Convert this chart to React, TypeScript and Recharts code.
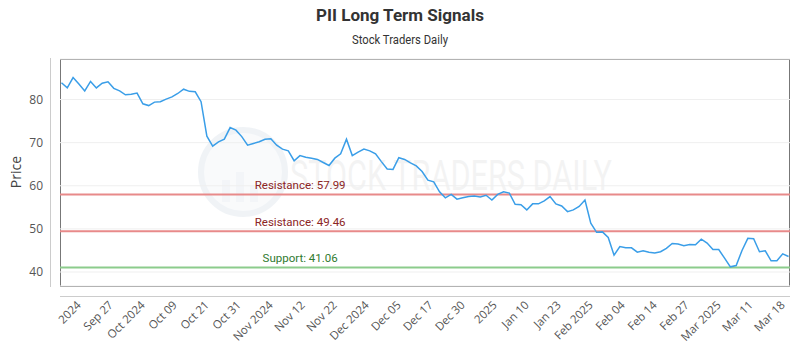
import { LineChart, Line, XAxis, YAxis, CartesianGrid, ReferenceLine } from "recharts";

// closing prices, one per trading day
const prices = [
  83.9, 82.7, 85.1, 83.6, 82.0, 84.2, 82.7, 83.8, 84.1, 82.6, 82.0, 81.1, 81.2,
  81.5, 79.0, 78.6, 79.4, 79.5, 80.1, 80.6, 81.4, 82.4, 81.9, 81.8, 79.5,
  71.5, 69.2, 70.2, 70.8, 73.5, 72.9, 71.4, 69.4, 69.8, 70.2, 70.8, 70.9, 69.4,
  68.5, 68.1, 65.8, 67.0, 66.6, 66.4, 66.1, 65.4, 64.7, 66.4, 67.4, 70.8,
  67.0, 67.8, 68.5, 68.1, 67.4, 65.6, 63.9, 63.8, 66.5, 66.1, 65.3, 64.6, 63.3,
  61.3, 60.9, 58.6, 57.2, 58.0, 56.9, 57.2, 57.5, 57.6, 57.4, 57.8,
  56.7, 58.0, 58.6, 58.3, 55.7, 55.6, 54.4, 55.8, 55.8, 56.5, 57.5, 55.8, 55.3,
  54.0, 54.4, 55.2, 56.7, 51.3, 49.2, 49.3, 48.0, 43.9, 45.9,
  45.6, 45.6, 44.6, 44.9, 44.6, 44.4, 44.7, 45.5, 46.6, 46.5, 46.1, 46.4, 46.3,
  47.6, 46.7, 45.2, 45.2, 43.2, 41.2, 41.5, 45.0, 47.8, 47.7, 44.7, 44.9, 42.6,
  42.6, 44.2, 43.6,
];

const tickLabels = [
  "2024", "Sep 27", "Oct 2024", "Oct 09", "Oct 21", "Oct 31", "Nov 2024",
  "Nov 12", "Nov 22", "Dec 2024", "Dec 05", "Dec 17", "Dec 30", "2025",
  "Jan 10", "Jan 23", "Feb 2025", "Feb 04", "Feb 14", "Feb 27", "Mar 2025",
  "Mar 11", "Mar 18",
];
// where each label sits, in trading-day index units
const tickPos = [
  2.5, 8, 13.5, 19, 24.5, 30, 35.5, 41, 46.5, 52, 57.5, 63, 68.5, 74, 79.5, 85,
  90.5, 96, 101.5, 107, 112.5, 118, 123.5,
];

const yTicks = [40, 50, 60, 70, 80];
const resistance = [57.99, 49.46];
const support = [41.06];

const data = prices.map((price, i) => ({ i, price }));

const PLOT = { left: 60, top: 59, right: 790, bottom: 286 };

function levelLabel(text: string, color: string) {
  return (props: any) => {
    const vb = props.viewBox || {};
    return (
      <text
        x={vb.x + vb.width * 0.329}
        y={vb.y - 5}
        textAnchor="middle"
        fill={color}
        fontSize={11.5}
        fontFamily="Roboto, sans-serif"
      >
        {text}
      </text>
    );
  };
}

function Backdrop() {
  return (
    <svg
      width={800}
      height={350}
      style={{ position: "absolute", left: 0, top: 0 }}
    >
      <text
        x={400}
        y={21}
        textAnchor="middle"
        fontSize={16.5}
        fontWeight="bold"
        fill="#333"
        fontFamily="Roboto, sans-serif"
        textLength={168}
        lengthAdjust="spacingAndGlyphs"
      >
        PII Long Term Signals
      </text>
      <text
        x={400}
        y={44}
        textAnchor="middle"
        fontSize={12}
        fill="#333"
        fontFamily="Roboto, sans-serif"
        textLength={96}
        lengthAdjust="spacingAndGlyphs"
      >
        Stock Traders Daily
      </text>

      {/* faint watermark */}
      <g opacity={0.35}>
        <circle cx={243} cy={172} r={42} fill="#eef2f6" stroke="#d5dee8" strokeWidth={6} />
        <rect x={222} y={180} width={8} height={22} fill="#dde4ec" />
        <rect x={236} y={172} width={8} height={30} fill="#dde4ec" />
        <rect x={250} y={185} width={8} height={17} fill="#dde4ec" />
      </g>
      <text
        x={290}
        y={190}
        fontSize={42}
        fill="#000"
        opacity={0.045}
        fontFamily="Roboto, sans-serif"
        textLength={322}
        lengthAdjust="spacingAndGlyphs"
      >
        STOCK TRADERS DAILY
      </text>

      <text
        transform="translate(21,172) rotate(-90)"
        textAnchor="middle"
        fontSize={14}
        fill="#444"
        fontFamily="Open Sans, sans-serif"
      >
        Price
      </text>

      <rect
        x={PLOT.left + 0.5}
        y={PLOT.top + 0.5}
        width={PLOT.right - PLOT.left - 1}
        height={PLOT.bottom - PLOT.top}
        fill="none"
        stroke="#777"
      />
      <line x1={50.5} x2={50.5} y1={58} y2={287} stroke="#ccc" />
      <line x1={60} x2={790} y1={296.5} y2={296.5} stroke="#ccc" />
    </svg>
  );
}

export default function App() {
  return (
    <div
      style={{
        position: "absolute",
        left: 0,
        top: 0,
        width: 800,
        height: 350,
        background: "#fff",
      }}
    >
      <Backdrop />
      <div style={{ position: "absolute", left: 0, top: 0 }}>
        <LineChart
          width={800}
          height={350}
          data={data}
          margin={{ top: 59, right: 10, bottom: 4, left: 0 }}
        >
          <CartesianGrid vertical={false} stroke="#efefef" />
          <XAxis
            type="number"
            dataKey="i"
            domain={[-0.25, 125.25]}
            ticks={tickPos}
            interval={0}
            tickFormatter={(v: number) => tickLabels[tickPos.indexOf(v)] ?? ""}
            angle={-45}
            textAnchor="end"
            height={60}
            tickLine={false}
            axisLine={false}
            tickSize={0}
            tickMargin={14}
            tick={{ fontSize: 11.5, fill: "#555", fontFamily: "Open Sans, sans-serif" }}
            allowDataOverflow
          />
          <YAxis
            domain={[36.75, 89.4]}
            ticks={yTicks}
            width={60}
            tickLine={false}
            axisLine={false}
            tickSize={0}
            tickMargin={17}
            tick={{ fontSize: 12, fill: "#555", fontFamily: "Open Sans, sans-serif" }}
            allowDataOverflow
          />
          {resistance.map((r) => (
            <ReferenceLine
              key={r}
              y={r}
              stroke="#e88a8a"
              strokeWidth={2}
              label={levelLabel(`Resistance: ${r.toFixed(2)}`, "#8b2525")}
            />
          ))}
          {support.map((s) => (
            <ReferenceLine
              key={s}
              y={s}
              stroke="#8ccc8c"
              strokeWidth={2}
              label={levelLabel(`Support: ${s.toFixed(2)}`, "#2f7a2f")}
            />
          ))}
          <Line
            type="linear"
            dataKey="price"
            stroke="#3a9ee8"
            strokeWidth={1.5}
            dot={false}
            isAnimationActive={false}
          />
        </LineChart>
      </div>
    </div>
  );
}
